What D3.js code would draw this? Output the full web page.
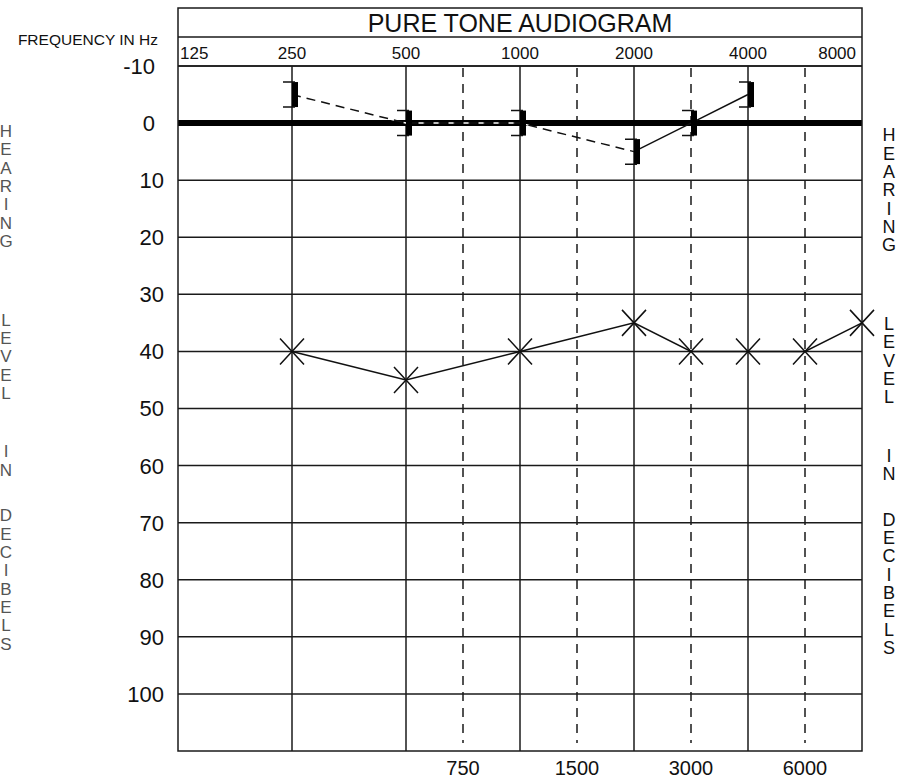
<!DOCTYPE html>
<html>
<head>
<meta charset="utf-8">
<script src="https://cdn.jsdelivr.net/npm/d3@7"></script>
<style>
  html, body { margin: 0; padding: 0; background: #fff; }
  svg { display: block; font-family: "Liberation Sans", Arial, sans-serif; }
</style>
</head>
<body>
<svg id="chart" width="912" height="781"></svg>
<script>
// ---------- data ----------
const title = "PURE TONE AUDIOGRAM";
const freqLabelTitle = "FREQUENCY IN Hz";
const sideWords = ["HEARING", "LEVEL", "IN", "DECIBELS"];
const octaveFreqs = [125, 250, 500, 1000, 2000, 4000, 8000];
const halfOctaveFreqs = [750, 1500, 3000, 6000];
const dbTicks = [-10, 0, 10, 20, 30, 40, 50, 60, 70, 80, 90, 100];
const dbDomain = [-10, 110];

// air conduction (X symbols, solid line)
const airFreqs = [250, 500, 1000, 2000, 3000, 4000, 6000, 8000];
const airValues = [40, 45, 40, 35, 40, 40, 40, 35];

// masked bone conduction ("]" symbols)
const boneFreqs = [250, 500, 1000, 2000, 3000, 4000];
const boneValues = [-5, 0, 0, 5, 0, -5];
// connecting lines of the bone points
const boneDashedFreqs = [250, 500, 1000, 2000];
const boneDashedValues = [-5, 0, 0, 5];
const boneSolidFreqs = [2000, 3000, 4000];
const boneSolidValues = [5, 0, -5];

// ---------- layout ----------
const box = { left: 178, right: 862, top: 8, titleBottom: 37, labelBottom: 66, bottom: 751 };
const gridColor = "#1a1a1a";

const svg = d3.select("#chart");

const allFreqs = octaveFreqs.concat(halfOctaveFreqs).sort((a, b) => a - b);
const octW = (box.right - box.left) / Math.log2(octaveFreqs[octaveFreqs.length - 1] / octaveFreqs[0]);
const octIndex = f => {
  const l = Math.log2(f / octaveFreqs[0]);
  return Math.abs(l - Math.round(l)) < 1e-9 ? Math.round(l) : Math.floor(l) + 0.5;
};
const x = d3.scaleLinear()
  .domain(allFreqs)
  .range(allFreqs.map(f => box.left + octIndex(f) * octW));
const y = d3.scaleLinear().domain(dbDomain).range([box.labelBottom, box.bottom]);

// ---------- grid ----------
const g = svg.append("g");

g.selectAll("line.h").data(dbTicks.filter(d => d !== 0)).join("line")
  .attr("x1", box.left).attr("x2", box.right)
  .attr("y1", d => y(d)).attr("y2", d => y(d))
  .attr("stroke", gridColor).attr("stroke-width", 1.5);

g.selectAll("line.v").data(octaveFreqs.slice(1, -1)).join("line")
  .attr("x1", d => x(d)).attr("x2", d => x(d))
  .attr("y1", box.labelBottom).attr("y2", box.bottom)
  .attr("stroke", gridColor).attr("stroke-width", 1.5);

g.selectAll("line.vd").data(halfOctaveFreqs).join("line")
  .attr("x1", d => x(d)).attr("x2", d => x(d))
  .attr("y1", box.labelBottom + 2).attr("y2", box.bottom - 8)
  .attr("stroke", gridColor).attr("stroke-width", 1.5)
  .attr("stroke-dasharray", "9,7");

g.append("line")
  .attr("x1", box.left).attr("x2", box.right)
  .attr("y1", y(0)).attr("y2", y(0))
  .attr("stroke", "#000").attr("stroke-width", 6);

g.append("rect")
  .attr("x", box.left).attr("y", box.top)
  .attr("width", box.right - box.left).attr("height", box.bottom - box.top)
  .attr("fill", "none").attr("stroke", gridColor).attr("stroke-width", 1.5);
[box.titleBottom, box.labelBottom].forEach(yy => {
  g.append("line").attr("x1", box.left).attr("x2", box.right)
    .attr("y1", yy).attr("y2", yy)
    .attr("stroke", gridColor).attr("stroke-width", 1.5);
});

// ---------- texts ----------
svg.append("text")
  .attr("x", (box.left + box.right) / 2).attr("y", 32)
  .attr("text-anchor", "middle").attr("font-size", 25).attr("fill", "#111")
  .text(title);

svg.append("text")
  .attr("x", 158).attr("y", 45)
  .attr("text-anchor", "end").attr("font-size", 15.5).attr("fill", "#111")
  .text(freqLabelTitle);

svg.selectAll("text.ft").data(octaveFreqs).join("text")
  .attr("x", (d, i) => i === 0 ? box.left + 2 : (i === octaveFreqs.length - 1 ? box.right - 6 : x(d)))
  .attr("y", 59)
  .attr("text-anchor", (d, i) => i === 0 ? "start" : (i === octaveFreqs.length - 1 ? "end" : "middle"))
  .attr("font-size", 17).attr("fill", "#111")
  .text(d => d);

svg.selectAll("text.fb").data(halfOctaveFreqs).join("text")
  .attr("x", d => x(d)).attr("y", 775)
  .attr("text-anchor", "middle").attr("font-size", 20).attr("fill", "#111")
  .text(d => d);

svg.selectAll("text.db").data(dbTicks).join("text")
  .attr("x", d => d <= 0 ? 155 : 164)
  .attr("y", d => y(d))
  .attr("dy", "0.36em")
  .attr("text-anchor", "end").attr("font-size", 22).attr("fill", "#111")
  .text(d => d);

// vertical side labels: one letter per line, words separated by blank space
const step = 18.3;
const wordStartLine = [0, 10.3, 17.5, 21];
const letters = [];
sideWords.forEach((w, wi) => w.split("").forEach((c, ci) => letters.push({ c, line: wordStartLine[wi] + ci })));
[{ cx: 6, top: 131, color: "#555", size: 17 }, { cx: 889, top: 135, color: "#111", size: 18 }].forEach(s => {
  svg.append("g").selectAll("text").data(letters).join("text")
    .attr("x", s.cx).attr("y", d => s.top + d.line * step)
    .attr("dy", "0.36em")
    .attr("text-anchor", "middle").attr("font-size", s.size).attr("fill", s.color)
    .text(d => d.c);
});

// ---------- data marks ----------
const line = d3.line().x(d => x(d[0])).y(d => y(d[1]));

const dashedPts = d3.zip(boneDashedFreqs, boneDashedValues);
svg.append("path").attr("d", line(dashedPts))
  .attr("fill", "none").attr("stroke", "#fff").attr("stroke-width", 1.5)
  .attr("stroke-dasharray", "6,9").attr("stroke-dashoffset", -10);
svg.append("path").attr("d", line(dashedPts))
  .attr("fill", "none").attr("stroke", "#111").attr("stroke-width", 1.5)
  .attr("stroke-dasharray", "9,6");

svg.append("path").attr("d", line(d3.zip(boneSolidFreqs, boneSolidValues)))
  .attr("fill", "none").attr("stroke", "#111").attr("stroke-width", 1.5);

const bone = svg.append("g").selectAll("g").data(d3.zip(boneFreqs, boneValues)).join("g")
  .attr("transform", d => `translate(${x(d[0])},${y(d[1])})`);
bone.append("rect").attr("x", 0).attr("y", -12.5).attr("width", 6).attr("height", 25).attr("fill", "#000");
bone.append("path").attr("d", "M-9,-12.5H3M-9,12.5H3")
  .attr("stroke", "#111").attr("stroke-width", 1.5).attr("fill", "none");

svg.append("path").attr("d", line(d3.zip(airFreqs, airValues)))
  .attr("fill", "none").attr("stroke", "#111").attr("stroke-width", 1.5);

svg.append("g").selectAll("path").data(d3.zip(airFreqs, airValues)).join("path")
  .attr("transform", d => `translate(${x(d[0])},${y(d[1])})`)
  .attr("d", "M-12,-13L12,13M-12,13L12,-13")
  .attr("stroke", "#111").attr("stroke-width", 1.5).attr("fill", "none");
</script>
</body>
</html>
